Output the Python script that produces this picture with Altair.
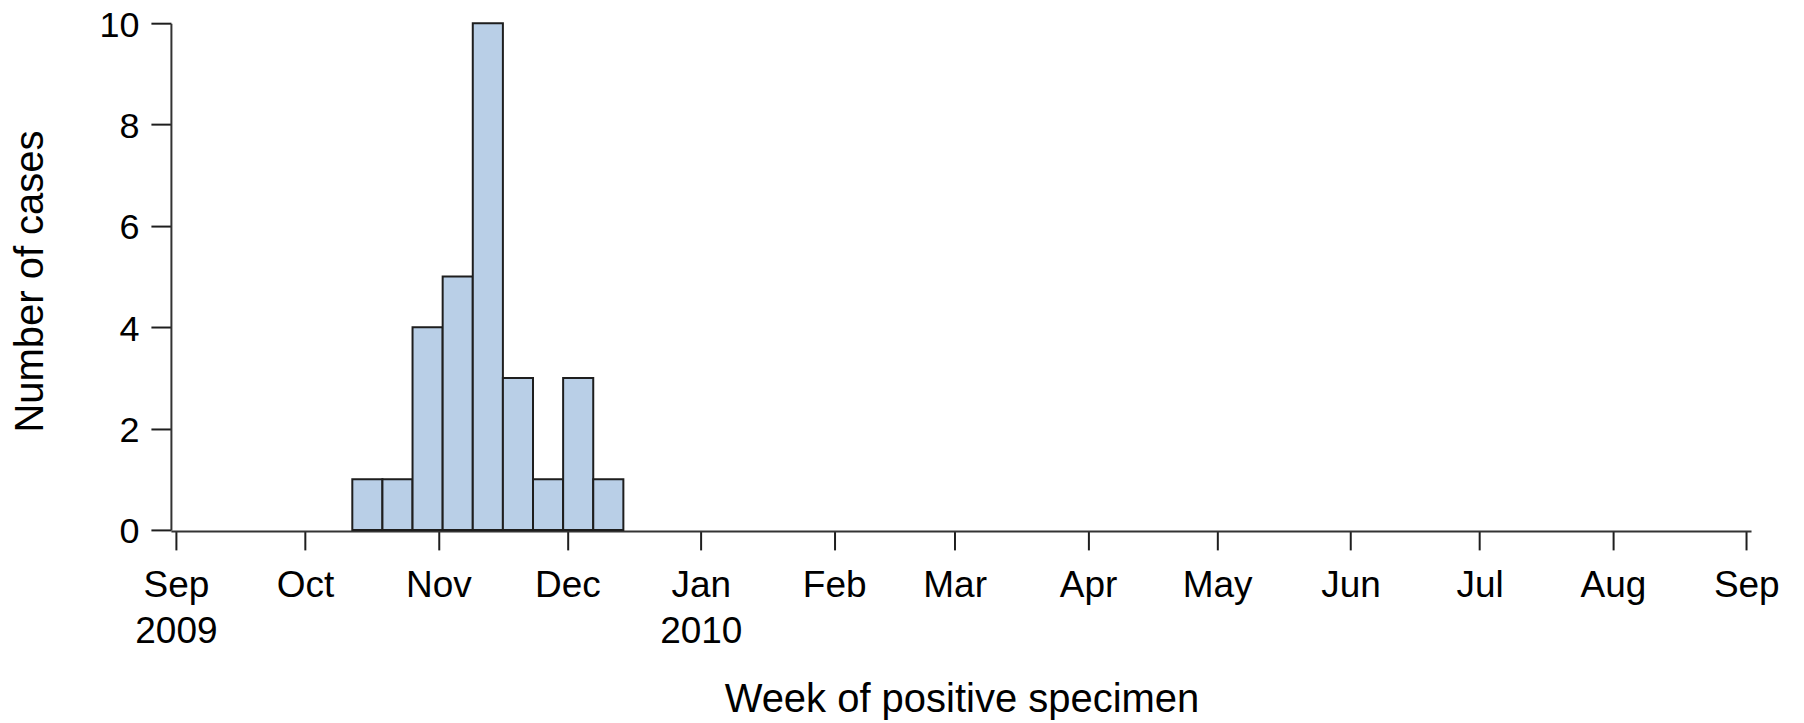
import altair as alt
import pandas as pd

# Weekly counts (week start dates, Monday)
week_start = ["2009-10-12", "2009-10-19", "2009-10-26", "2009-11-02", "2009-11-09",
              "2009-11-16", "2009-11-23", "2009-11-30", "2009-12-07"]
cases = [1, 1, 4, 5, 10, 3, 1, 3, 1]

# Month ticks along the x axis
tick_dates = ["2009-09-01", "2009-10-01", "2009-11-01", "2009-12-01", "2010-01-01",
              "2010-02-01", "2010-03-01", "2010-04-01", "2010-05-01", "2010-06-01",
              "2010-07-01", "2010-08-01", "2010-09-01"]
y_ticks = [0, 2, 4, 6, 8, 10]

df = pd.DataFrame({"week": week_start, "cases": cases})

tick_vals = [alt.DateTime(year=int(d[:4]), month=int(d[5:7]), date=int(d[8:10]), utc=True)
             for d in tick_dates]

FONT = "Liberation Sans"

label_expr = (
    "(utcmonth(datum.value) == 0 || (utcmonth(datum.value) == 8 && utcyear(datum.value) == 2009))"
    " ? [utcFormat(datum.value, '%b'), utcFormat(datum.value, '%Y')]"
    " : utcFormat(datum.value, '%b')"
)

chart = alt.Chart(df).transform_calculate(
    start="toDate(datum.week + 'T00:00:00Z')",
    end="toDate(datum.week + 'T00:00:00Z') + 7*24*3600*1000",
).mark_rect(
    fill="#b9cfe7", stroke="#1e1e1e", strokeWidth=2
).encode(
    x=alt.X(
        "start:T",
        scale=alt.Scale(
            type="utc",
            domain=[
                alt.DateTime(year=2009, month=8, date=30, hours=20, minutes=6, utc=True),
                alt.DateTime(year=2010, month=9, date=2, hours=2, minutes=24, utc=True),
            ],
        ),
        axis=alt.Axis(
            values=tick_vals,
            labelExpr=label_expr,
            title="Week of positive specimen",
            titleFont=FONT,
            titleFontSize=40,
            titleFontWeight="normal",
            titleColor="black",
            titleBaseline="alphabetic",
            titleAnchor="middle",
            titleX=791,
            titleY=181,
            labelFont=FONT,
            labelFontSize=37,
            labelColor="black",
            labelBaseline="top",
            labelPadding=18,
            labelLineHeight=46,
            labelFlush=False,
            labelOverlap=False,
            tickSize=19,
            tickWidth=2,
            tickColor="#1e1e1e",
            domainColor="#333333",
            domainWidth=2,
            offset=1,
            grid=False,
        ),
    ),
    x2="end:T",
    y=alt.Y(
        "cases:Q",
        scale=alt.Scale(domain=[0, 10], nice=False, zero=True),
        axis=alt.Axis(
            values=y_ticks,
            title="Number of cases",
            titleFont=FONT,
            titleFontSize=40,
            titleFontWeight="normal",
            titleColor="black",
            titleAngle=-90,
            titleBaseline="alphabetic",
            titleAlign="center",
            titleX=-128,
            titleY=258,
            labelFont=FONT,
            labelFontSize=36,
            labelColor="black",
            labelPadding=12,
            labelOffset=2,
            tickSize=20,
            tickWidth=2,
            tickColor="#1e1e1e",
            domainColor="#333333",
            domainWidth=2,
            grid=False,
        ),
    ),
    y2=alt.datum(0),
).properties(
    width=1581,
    height=507,
    background="white",
    autosize=alt.AutoSizeParams(type="none"),
    padding={"left": 163, "top": 15, "right": 45, "bottom": 193},
).configure_view(
    stroke=None
)

chart.save("out.html", embed_options={"renderer": "svg", "actions": False})
